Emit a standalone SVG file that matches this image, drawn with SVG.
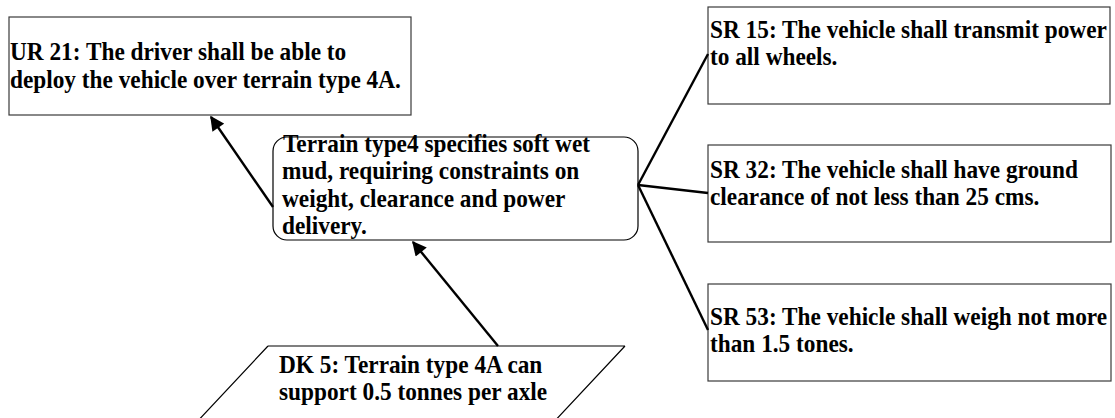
<svg xmlns="http://www.w3.org/2000/svg" width="1115" height="418" viewBox="0 0 1115 418">
  <style>
    .box { fill: #ffffff; stroke: #3a3a3a; stroke-width: 1.2; }
    .rbox { fill: #ffffff; stroke: #000000; stroke-width: 1.2; }
    .para { fill: none; stroke: #000000; stroke-width: 1.2; }
    .lbl { font-family: "Liberation Serif", "Times New Roman", serif; font-weight: bold; font-size: 25px; fill: #000000; }
    .edge { fill: none; stroke: #000000; stroke-width: 2.4; }
  </style>
  <defs>
    <marker id="arrow" viewBox="0 0 10 10" refX="9" refY="5" markerWidth="6.5" markerHeight="6" markerUnits="strokeWidth" orient="auto">
      <path d="M0,0 L10,5 L0,10 Z" fill="#000000"/>
    </marker>
  </defs>

  <!-- user requirement -->
  <g id="ur21">
    <rect class="box" x="9" y="17" width="402" height="98"/>
    <g transform="translate(10 0) scale(0.932 1) translate(-10 0)">
      <text class="lbl" x="10" y="60">UR 21: The driver shall be able to</text>
      <text class="lbl" x="10" y="88">deploy the vehicle over terrain type 4A.</text>
    </g>
  </g>

  <!-- rationale -->
  <g id="rationale">
    <rect class="rbox" x="273" y="137" width="365" height="103" rx="14" ry="14"/>
    <g transform="translate(282 0) scale(0.932 1) translate(-282 0)">
      <text class="lbl" x="283" y="152">Terrain type4 specifies soft wet</text>
      <text class="lbl" x="282" y="179.5">mud, requiring constraints on</text>
      <text class="lbl" x="282" y="207">weight, clearance and power</text>
      <text class="lbl" x="282" y="234.5">delivery.</text>
    </g>
  </g>

  <!-- domain knowledge -->
  <g id="dk5">
    <path class="para" d="M268,346 L625,346 M268,346 L194,425 M625,346 L551,425"/>
    <g transform="translate(279 0) scale(0.932 1) translate(-279 0)">
      <text class="lbl" x="279" y="373">DK 5: Terrain type 4A can</text>
      <text class="lbl" x="279" y="400">support 0.5 tonnes per axle</text>
    </g>
  </g>

  <!-- system requirements -->
  <g id="sr15">
    <rect class="box" x="708" y="7" width="402" height="97"/>
    <g transform="translate(710 0) scale(0.932 1) translate(-710 0)">
      <text class="lbl" x="710" y="38">SR 15: The vehicle shall transmit power</text>
      <text class="lbl" x="710" y="65">to all wheels.</text>
    </g>
  </g>

  <g id="sr32">
    <rect class="box" x="708" y="145" width="403" height="97"/>
    <g transform="translate(710 0) scale(0.932 1) translate(-710 0)">
      <text class="lbl" x="710" y="178">SR 32: The vehicle shall have ground</text>
      <text class="lbl" x="710" y="205">clearance of not less than 25 cms.</text>
    </g>
  </g>

  <g id="sr53">
    <rect class="box" x="708" y="284" width="403" height="97"/>
    <g transform="translate(710 0) scale(0.932 1) translate(-710 0)">
      <text class="lbl" x="710" y="325">SR 53: The vehicle shall weigh not more</text>
      <text class="lbl" x="710" y="352">than 1.5 tones.</text>
    </g>
  </g>

  <!-- connectors -->
  <g id="connectors">
    <line class="edge" x1="273" y1="207" x2="211" y2="117" marker-end="url(#arrow)"/>
    <line class="edge" x1="498" y1="346" x2="413" y2="242" marker-end="url(#arrow)"/>
    <line class="edge" x1="638" y1="185" x2="708" y2="54"/>
    <line class="edge" x1="638" y1="185" x2="708" y2="193"/>
    <line class="edge" x1="638" y1="185" x2="708" y2="330"/>
  </g>
</svg>
